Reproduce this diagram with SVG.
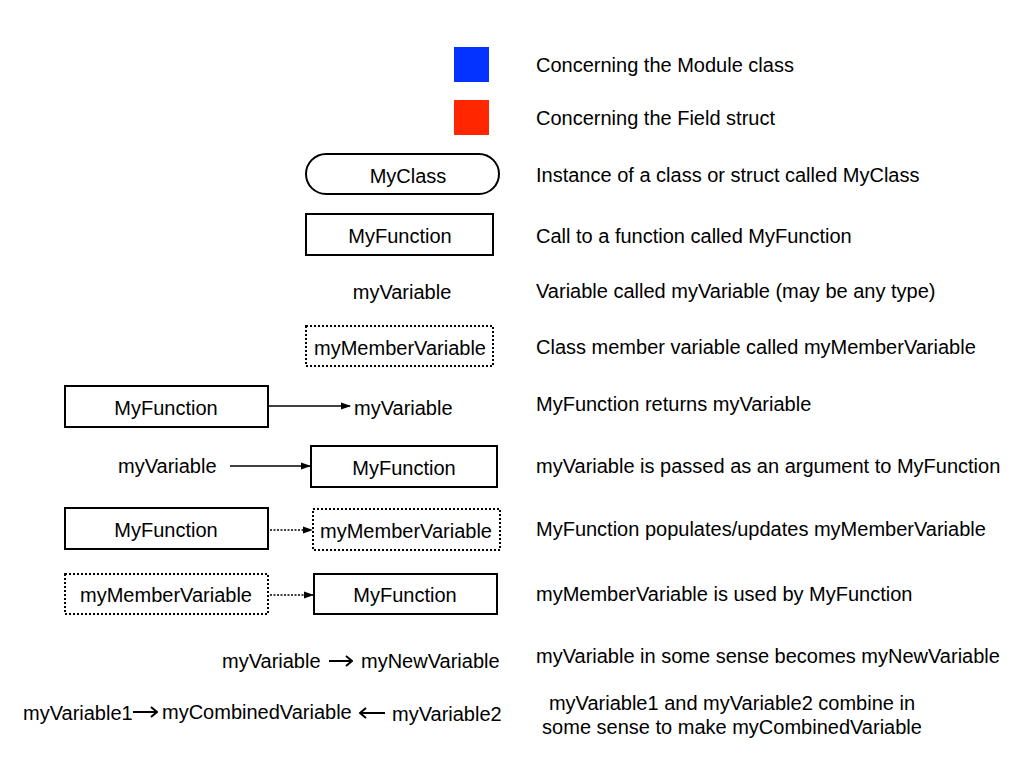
<svg xmlns="http://www.w3.org/2000/svg" width="1024" height="768" viewBox="0 0 1024 768">
<defs>
<style>
text{font-family:"Liberation Sans",Arial,sans-serif;font-size:20px;fill:#000}
.c{text-anchor:middle}
.box{fill:#fff;stroke:#000;stroke-width:2}
.dot{fill:#fff;stroke:#000;stroke-width:2;stroke-dasharray:2 2}
.ln{stroke:#000;stroke-width:1.5;fill:none}
.tl{stroke:#000;stroke-width:2;fill:none}
.dl{stroke:#000;stroke-width:1.5;fill:none;stroke-dasharray:2 1.5}
</style>
<marker id="ah" markerWidth="10" markerHeight="8" refX="9" refY="4" orient="auto" markerUnits="userSpaceOnUse">
<path d="M0,0.5 L10,4 L0,7.5 Z" fill="#000"/>
</marker>
<marker id="th" markerWidth="10" markerHeight="12" refX="9" refY="6" orient="auto" markerUnits="userSpaceOnUse">
<path d="M3,1 L9,6 L3,11" fill="none" stroke="#000" stroke-width="2"/>
</marker>
</defs>
<rect width="1024" height="768" fill="#fff"/>

<g id="legend-module"><rect x="454" y="47" width="35" height="35" fill="#0433FF"/></g>
<g id="legend-field"><rect x="454" y="100" width="35" height="35" fill="#FF2600"/></g>

<g id="n-myclass"><rect class="box" x="306" y="154" width="193" height="40" rx="20"/><text class="c" x="408" y="183">MyClass</text></g>
<g id="n-myfunction"><rect class="box" x="306" y="214" width="187" height="41"/><text class="c" x="400" y="243">MyFunction</text></g>
<g id="n-myvariable"><text class="c" x="402" y="299">myVariable</text></g>
<g id="n-mymember"><rect class="dot" x="306" y="326" width="187" height="40"/><text class="c" x="400" y="355">myMemberVariable</text></g>

<g id="r7-func"><rect class="box" x="65" y="386" width="203" height="41"/><text class="c" x="166" y="415">MyFunction</text></g>
<g id="r7-var"><text x="354" y="415">myVariable</text></g>

<g id="r8-var"><text x="118" y="473">myVariable</text></g>
<g id="r8-func"><rect class="box" x="311" y="446" width="186" height="41"/><text class="c" x="404" y="475">MyFunction</text></g>

<g id="r9-func"><rect class="box" x="65" y="508" width="203" height="41"/><text class="c" x="166" y="537">MyFunction</text></g>
<g id="r9-member"><rect class="dot" x="313" y="509" width="187" height="41"/><text class="c" x="406" y="538">myMemberVariable</text></g>

<g id="r10-member"><rect class="dot" x="65" y="574" width="203" height="40"/><text class="c" x="166" y="602">myMemberVariable</text></g>
<g id="r10-func"><rect class="box" x="314" y="574" width="183" height="40"/><text class="c" x="405" y="602">MyFunction</text></g>

<g id="r11-var"><text x="222" y="668">myVariable</text></g>
<g id="r11-new"><text x="361" y="668">myNewVariable</text></g>

<g id="r12-v1"><text x="23" y="720">myVariable1</text></g>
<g id="r12-comb"><text x="162" y="719">myCombinedVariable</text></g>
<g id="r12-v2"><text x="392" y="721">myVariable2</text></g>

<g id="connectors">
<line class="ln" x1="269" y1="406" x2="350" y2="406" marker-end="url(#ah)"/>
<line class="ln" x1="230" y1="466" x2="310" y2="466" marker-end="url(#ah)"/>
<line class="dl" x1="270" y1="530" x2="312" y2="530" marker-end="url(#ah)"/>
<line class="dl" x1="270" y1="595" x2="313" y2="595" marker-end="url(#ah)"/>
<line class="tl" x1="329" y1="661" x2="352" y2="661" marker-end="url(#th)"/>
<line class="tl" x1="133" y1="712" x2="157" y2="712" marker-end="url(#th)"/>
<line class="tl" x1="385" y1="713" x2="360" y2="713" marker-end="url(#th)"/>
</g>

<g id="descriptions">
<text x="536" y="72">Concerning the Module class</text>
<text x="536" y="125">Concerning the Field struct</text>
<text x="536" y="182">Instance of a class or struct called MyClass</text>
<text x="536" y="243">Call to a function called MyFunction</text>
<text x="536" y="298">Variable called myVariable (may be any type)</text>
<text x="536" y="354">Class member variable called myMemberVariable</text>
<text x="536" y="411">MyFunction returns myVariable</text>
<text x="536" y="473">myVariable is passed as an argument to MyFunction</text>
<text x="536" y="536">MyFunction populates/updates myMemberVariable</text>
<text x="536" y="601">myMemberVariable is used by MyFunction</text>
<text x="536" y="663">myVariable in some sense becomes myNewVariable</text>
<text class="c" x="732" y="710">myVariable1 and myVariable2 combine in</text>
<text class="c" x="732" y="734">some sense to make myCombinedVariable</text>
</g>
</svg>
